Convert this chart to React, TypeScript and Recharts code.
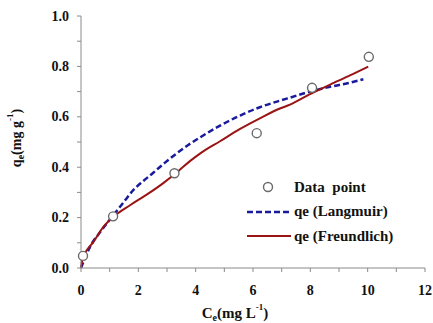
import React from "react";
import { ComposedChart, Line, Scatter, XAxis, YAxis } from "recharts";

const FONT = '"Liberation Serif", "Times New Roman", serif';
const AXIS_GREY = "#8a8a8a";

// experimental points
const dataCe = [0.07, 1.12, 3.26, 6.13, 8.06, 10.04];
const dataQe = [0.048, 0.205, 0.376, 0.535, 0.715, 0.838];

// Langmuir fit
const langCe = [0, 0.31, 0.72, 1.13, 1.48, 1.83, 2.17, 2.52, 2.93, 3.34, 3.74, 4.15, 4.85, 5.55, 6.24, 6.94, 7.29, 7.99, 8.69, 9.3, 9.85];
const langQe = [0, 0.083, 0.15, 0.21, 0.26, 0.31, 0.345, 0.378, 0.418, 0.455, 0.488, 0.518, 0.565, 0.605, 0.638, 0.664, 0.676, 0.70, 0.719, 0.733, 0.749];

// Freundlich fit
const freuCe = [0, 0.05, 0.2, 0.43, 0.78, 1.13, 1.71, 2.29, 2.87, 3.4, 3.8, 4.15, 4.85, 5.55, 6.24, 6.94, 7.29, 7.99, 8.69, 9.4, 10.02];
const freuQe = [0, 0.035, 0.07, 0.103, 0.163, 0.203, 0.249, 0.291, 0.337, 0.385, 0.424, 0.454, 0.503, 0.552, 0.594, 0.633, 0.648, 0.69, 0.728, 0.765, 0.799];

const xTicks = [0, 1, 2, 3, 4, 5, 6, 7, 8, 9, 10, 11, 12];
const yTicks = [0, 0.1, 0.2, 0.3, 0.4, 0.5, 0.6, 0.7, 0.8, 0.9, 1.0];

const points = dataCe.map((x, i) => ({ x, y: dataQe[i] }));
const langmuir = langCe.map((x, i) => ({ x, y: langQe[i] }));
const freundlich = freuCe.map((x, i) => ({ x, y: freuQe[i] }));

const textStyle = { fontFamily: FONT, fontSize: 14, fontWeight: 700 };

function XTick(props: any) {
  const { x, y, payload } = props;
  if (payload.value % 2 !== 0) return null;
  return (
    <text x={x} y={y + 5} textAnchor="middle" dominantBaseline="central" style={textStyle} fill="#111">
      {payload.value}
    </text>
  );
}

function YTick(props: any) {
  const { x, y, payload } = props;
  if (Math.round(payload.value * 10) % 2 !== 0) return null;
  return (
    <text x={x} y={y} textAnchor="end" dominantBaseline="central" style={textStyle} fill="#111">
      {payload.value.toFixed(1)}
    </text>
  );
}

function Legend() {
  const rows = [
    { key: "pt", label: "Data  point" },
    { key: "lang", label: "qe (Langmuir)" },
    { key: "freu", label: "qe (Freundlich)" },
  ];
  return (
    <div style={{ position: "absolute", left: 246, top: 175, ...textStyle, fontSize: 15, color: "#111" }}>
      {rows.map((r) => (
        <div key={r.key} style={{ display: "flex", alignItems: "center", height: 24.5 }}>
          <svg width={48} height={12} style={{ marginRight: 0 }}>
            {r.key === "pt" && <circle cx={22} cy={6} r={4.5} fill="#fff" stroke="#6b6b6b" strokeWidth={1.4} />}
            {r.key === "lang" && <line x1={1} y1={6} x2={45} y2={6} stroke="#1a1a9c" strokeWidth={2.5} strokeDasharray="6 3" />}
            {r.key === "freu" && <line x1={1} y1={6} x2={45} y2={6} stroke="#9b1414" strokeWidth={2.2} />}
          </svg>
          <span style={{ whiteSpace: "pre" }}>{r.label}</span>
        </div>
      ))}
    </div>
  );
}

function YLabel(props: any) {
  const { viewBox } = props;
  const cx = viewBox.x + 16;
  const cy = viewBox.y + viewBox.height / 2 - 4;
  return (
    <text
      x={cx}
      y={cy}
      transform={`rotate(-90, ${cx}, ${cy})`}
      textAnchor="middle"
      dominantBaseline="central"
      style={textStyle}
      fill="#111"
    >
      q<tspan fontSize={10} dy={4}>e</tspan>
      <tspan dy={-4}>(mg g</tspan>
      <tspan fontSize={9} dy={-6}>-1</tspan>
      <tspan dy={6}>)</tspan>
    </text>
  );
}

function XLabel(props: any) {
  const { viewBox } = props;
  const cx = viewBox.x + viewBox.width / 2 - 18;
  const cy = viewBox.y + 45;
  return (
    <text x={cx} y={cy} textAnchor="middle" dominantBaseline="central" style={{ ...textStyle, fontSize: 15 }} fill="#111">
      C<tspan fontSize={10} dy={4}>e</tspan>
      <tspan dy={-4}>(mg L</tspan>
      <tspan fontSize={9} dy={-6}>-1</tspan>
      <tspan dy={6}>)</tspan>
    </text>
  );
}

export default function App() {
  return (
    <div style={{ position: "absolute", left: 0, top: 0, width: 433, height: 323, background: "#fff" }}>
      <ComposedChart width={433} height={323} margin={{ top: 16, right: 8, left: 0, bottom: 0 }}>
        <XAxis
          type="number"
          dataKey="x"
          domain={[0, 12]}
          ticks={xTicks}
          interval={0}
          height={55}
          tickSize={4}
          tickMargin={13}
          stroke={AXIS_GREY}
          tick={<XTick />}
          label={<XLabel />}
        />
        <YAxis
          type="number"
          dataKey="y"
          domain={[0, 1]}
          ticks={yTicks}
          interval={0}
          width={81}
          tickSize={4}
          tickMargin={8}
          stroke={AXIS_GREY}
          tick={<YTick />}
          label={<YLabel />}
        />
        <Line
          data={langmuir}
          dataKey="y"
          type="monotone"
          stroke="#1a1a9c"
          strokeWidth={2.5}
          strokeDasharray="6 3"
          dot={false}
          activeDot={false}
          isAnimationActive={false}
        />
        <Line
          data={freundlich}
          dataKey="y"
          type="monotone"
          stroke="#9b1414"
          strokeWidth={2}
          dot={false}
          activeDot={false}
          isAnimationActive={false}
        />
        <Scatter
          data={points}
          dataKey="y"
          fill="#fff"
          stroke="#6b6b6b"
          strokeWidth={1.4}
          isAnimationActive={false}
        />
      </ComposedChart>
      <Legend />
    </div>
  );
}
